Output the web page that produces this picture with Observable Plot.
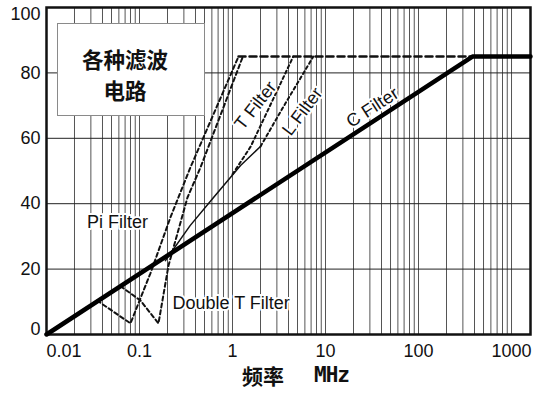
<!DOCTYPE html>
<html><head><meta charset="utf-8">
<script src="https://cdn.jsdelivr.net/npm/d3@7"></script>
<script src="https://cdn.jsdelivr.net/npm/@observablehq/plot@0.6"></script>
<style>
body{margin:0;background:#fff;}
#wrap{position:relative;width:536px;height:394px;overflow:hidden;background:#fff;}
#box{position:absolute;left:57px;top:23px;width:146px;height:91px;border:1.5px solid #8a8a8a;background:#fff;box-sizing:content-box;
 font-family:"Noto Sans CJK SC",sans-serif;font-weight:bold;font-size:21.5px;text-align:center;color:#111;}
#box .l{position:absolute;left:0;width:134px;height:31px;line-height:31px;}
#xl1{position:absolute;left:242px;top:364px;font-family:"Noto Sans CJK SC",sans-serif;font-weight:bold;font-size:21px;line-height:22px;color:#111;}
#xl2{position:absolute;left:314px;top:364px;font-family:"DejaVu Sans Mono",monospace;font-weight:bold;font-size:21px;line-height:22px;color:#111;letter-spacing:-1px;}
</style></head>
<body><div id="wrap"><div id="chart"></div>
<div id="box"><div class="l" style="top:18.5px">各种滤波</div><div class="l" style="top:49.5px">电路</div></div>
<div id="xl1">频率</div><div id="xl2">MHz</div>
</div>
<script>
// ---- data ----
const xTicks = [0.01, 0.1, 1, 10, 100, 1000];
const xTickLabels = ["0.01", "0.1", "1", "10", "100", "1000"];
const yTicks = [0, 20, 40, 60, 80, 100];
const decades = [0.01, 0.1, 1, 10, 100, 1000];
const gridSteps = [1, 2, 3, 4, 5, 6, 7, 8, 9];

// C Filter
const freqC = [0.01, 380, 1600];
const dbC = [0, 85, 85];
// Pi Filter
const freqPi = [0.035, 0.08, 0.131, 0.215, 0.353, 1.16];
const dbPi = [10.4, 3.4, 18.7, 35.8, 51.1, 85];
// Double T Filter
const freqDT = [0.0624, 0.1024, 0.16, 0.205, 0.328, 0.453, 1.28];
const dbDT = [14.8, 10.4, 3.4, 21.1, 41.9, 51.1, 84.7];
// common plateau (dashed)
const freqTop = [1.16, 380];
const dbTop = [85, 85];
// solid measured section
const freqS = [0.19, 0.35, 0.625, 1.22, 2.0];
const dbS = [22.6, 33.3, 41.9, 51.7, 57.5];
// T Filter
const freqT = [1.0, 1.57, 2.26, 4.5];
const dbT = [49, 57.5, 67, 85];
// L Filter
const freqL = [2.0, 3.5, 7.4];
const dbL = [57.5, 69.5, 85];

// annotations
const labelText = ["C Filter", "L Filter", "T Filter", "Pi Filter"];
const labelFreq = [32, 5.66, 1.77, 0.058];
const labelDb = [69.4, 68.2, 70, 34.3];
const labelAngle = [-33, -53, -52, 0];
const dtLabel = {text: "Double T Filter", f: 0.226, db: 9.5};

const xDomain = [0.01, 1600];
// ---- build ----
const zip = (f, v) => f.map((d, i) => ({f: d, v: v[i]}));
const vGrid = decades.flatMap(d => gridSteps.map(s => d * s)).filter(v => v > xDomain[0] && v < xDomain[1]);
const labels = labelText.map((t, i) => ({t, f: labelFreq[i], v: labelDb[i], a: labelAngle[i]}));
const fmtX = d => xTickLabels[xTicks.indexOf(d)];

const chart = Plot.plot({
  width: 536, height: 360,
  marginLeft: 46, marginRight: 6, marginTop: 7, marginBottom: 26,
  x: {type: "log", domain: xDomain},
  y: {domain: [0, 100]},
  style: {fontFamily: "'Liberation Sans', Arial, sans-serif", fontSize: "18px", background: "white", color: "#111"},
  marks: [
    Plot.ruleX(vGrid, {stroke: "#555", strokeWidth: 1}),
    Plot.ruleY(yTicks.slice(1, -1), {stroke: "#222", strokeWidth: 1}),
    Plot.frame({stroke: "#111", strokeWidth: 2.5}),
    Plot.axisY(yTicks.slice(1, -1), {tickSize: 0, tickPadding: 6, label: null, fontSize: 18}),
    Plot.axisY([yTicks[yTicks.length - 1]], {tickSize: 0, tickPadding: 6, label: null, fontSize: 18, dy: 7}),
    Plot.axisY([yTicks[0]], {tickSize: 0, tickPadding: 6, label: null, fontSize: 18, dy: -5}),
    Plot.axisX(xTicks.slice(1), {tickSize: 0, tickPadding: 10, label: null, fontSize: 18, tickFormat: fmtX}),
    Plot.axisX([xTicks[0]], {tickSize: 0, tickPadding: 10, label: null, fontSize: 18, textAnchor: "start", tickFormat: fmtX}),
    Plot.line(zip(freqS, dbS), {x: "f", y: "v", stroke: "#111", strokeWidth: 1.5}),
    Plot.line(zip(freqT, dbT), {x: "f", y: "v", stroke: "#111", strokeWidth: 2, strokeDasharray: "3,3"}),
    Plot.line(zip(freqL, dbL), {x: "f", y: "v", stroke: "#111", strokeWidth: 2, strokeDasharray: "3,3"}),
    Plot.line(zip(freqPi, dbPi), {x: "f", y: "v", stroke: "#111", strokeWidth: 2, strokeDasharray: "4,3"}),
    Plot.line(zip(freqDT, dbDT), {x: "f", y: "v", stroke: "#111", strokeWidth: 2, strokeDasharray: "4,3"}),
    Plot.line(zip(freqTop, dbTop), {x: "f", y: "v", stroke: "#111", strokeWidth: 2.5, strokeDasharray: "7,4"}),
    Plot.line(zip(freqC, dbC), {x: "f", y: "v", stroke: "#000", strokeWidth: 4.5, strokeLinejoin: "miter"}),
    Plot.text(labels, {x: "f", y: "v", text: "t", rotate: "a", fontSize: 18, fill: "#111", stroke: "white", strokeWidth: 4}),
    Plot.text([dtLabel], {x: "f", y: "db", text: "text", textAnchor: "start", fontSize: 18, fill: "#111", stroke: "white", strokeWidth: 4})
  ]
});
document.getElementById("chart").appendChild(chart);
</script>
</body></html>
